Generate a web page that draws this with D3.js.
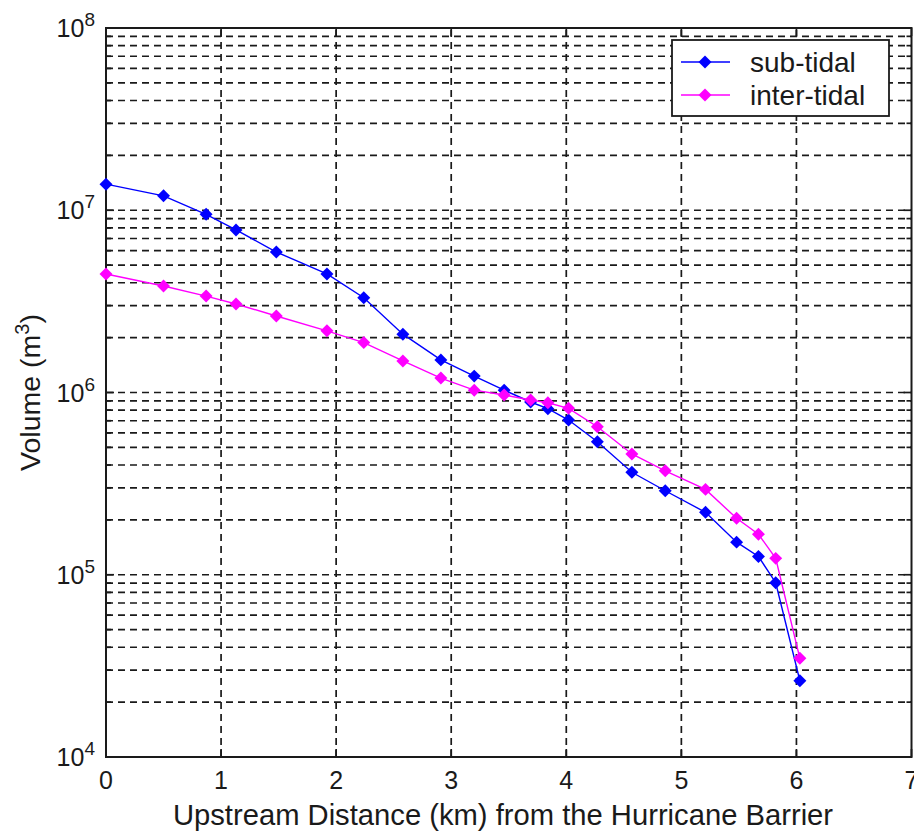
<!DOCTYPE html>
<html>
<head>
<meta charset="utf-8">
<script src="https://cdn.jsdelivr.net/npm/d3@7"></script>
<style>
  html, body { margin: 0; padding: 0; background: #fff; }
  svg { display: block; }
  text { font-family: "Liberation Sans", Arial, sans-serif; fill: #1a1a1a; }
</style>
</head>
<body>
<svg id="chart" width="914" height="836"></svg>
<script>
// Upstream distance (km) of each cross-section
const distance = [0, 0.50, 0.87, 1.13, 1.48, 1.92, 2.24, 2.58, 2.91, 3.20, 3.46,
                  3.69, 3.84, 4.02, 4.27, 4.57, 4.86, 5.21, 5.48, 5.67, 5.82, 6.03];
// Cumulative volumes (m^3)
const subTidal = [1.39e7, 1.20e7, 9.5e6, 7.8e6, 5.9e6, 4.47e6, 3.31e6, 2.09e6, 1.51e6, 1.23e6, 1.03e6,
                  8.87e5, 8.15e5, 7.06e5, 5.37e5, 3.65e5, 2.89e5, 2.20e5, 1.51e5, 1.26e5, 9.04e4, 2.62e4];
const interTidal = [4.47e6, 3.84e6, 3.38e6, 3.06e6, 2.63e6, 2.18e6, 1.88e6, 1.49e6, 1.20e6, 1.03e6, 9.69e5,
                    9.09e5, 8.79e5, 8.19e5, 6.49e5, 4.60e5, 3.72e5, 2.94e5, 2.04e5, 1.67e5, 1.23e5, 3.48e4];
const seriesNames = ["sub-tidal", "inter-tidal"];
const seriesColors = ["#0000ff", "#ff00ff"];
const xTicks = [0, 1, 2, 3, 4, 5, 6, 7];
const yDecades = [4, 5, 6, 7, 8];
const xLabel = "Upstream Distance (km) from the Hurricane Barrier";

const L = 106, R = 911.5, T = 28, B = 757;
const svg = d3.select("#chart");

const x = d3.scaleLinear().domain([0, 7]).range([L, R]);
const y = d3.scaleLog().domain([1e4, 1e8]).range([B, T]);

// minor + major log positions
const yMinor = [];
yDecades.slice(0, -1).forEach(k => {
  for (let m = 2; m <= 9; m++) yMinor.push(m * Math.pow(10, k));
});
const yMajor = yDecades.map(k => Math.pow(10, k));

// grid
const grid = svg.append("g").attr("stroke", "#1a1a1a").attr("stroke-width", 1.7)
  .attr("stroke-dasharray", "7,5").attr("fill", "none");
grid.selectAll("line.hx").data(yMinor.concat(yMajor.slice(1, -1))).join("line")
  .attr("x1", L).attr("x2", R).attr("y1", d => y(d)).attr("y2", d => y(d));
grid.selectAll("line.vx").data(xTicks.slice(1, -1)).join("line")
  .attr("y1", B).attr("y2", T).attr("x1", d => x(d)).attr("x2", d => x(d));

// inward ticks on all four sides
const ticks = svg.append("g").attr("stroke", "#1a1a1a").attr("stroke-width", 1.7);
xTicks.forEach(d => {
  ticks.append("line").attr("x1", x(d)).attr("x2", x(d)).attr("y1", B).attr("y2", B - 8);
  ticks.append("line").attr("x1", x(d)).attr("x2", x(d)).attr("y1", T).attr("y2", T + 8);
});
yMajor.forEach(d => {
  ticks.append("line").attr("x1", L).attr("x2", L + 8).attr("y1", y(d)).attr("y2", y(d));
  ticks.append("line").attr("x1", R).attr("x2", R - 8).attr("y1", y(d)).attr("y2", y(d));
});
yMinor.forEach(d => {
  ticks.append("line").attr("x1", L).attr("x2", L + 5).attr("y1", y(d)).attr("y2", y(d));
  ticks.append("line").attr("x1", R).attr("x2", R - 5).attr("y1", y(d)).attr("y2", y(d));
});

// axes box
svg.append("rect").attr("x", L).attr("y", T).attr("width", R - L).attr("height", B - T)
  .attr("fill", "none").attr("stroke", "#1a1a1a").attr("stroke-width", 2);

// x tick labels
svg.append("g").selectAll("text").data(xTicks).join("text")
  .attr("x", d => x(d)).attr("y", B + 32).attr("text-anchor", "middle")
  .attr("font-size", 25).text(d => d);

// y tick labels as 10^k
const yl = svg.append("g").selectAll("text").data(yDecades).join("text")
  .attr("x", 95).attr("y", d => y(Math.pow(10, d)) + 9).attr("text-anchor", "end")
  .attr("font-size", 25);
yl.append("tspan").text("10");
yl.append("tspan").attr("font-size", 19).attr("dy", -11).text(d => d);

// axis titles
svg.append("text").attr("x", 503).attr("y", 825).attr("text-anchor", "middle")
  .attr("font-size", 29.2).text(xLabel);
const ylab = svg.append("text").attr("transform", `translate(40,${(T + B) / 2}) rotate(-90)`)
  .attr("text-anchor", "middle").attr("font-size", 28.5);
ylab.append("tspan").text("Volume (m");
ylab.append("tspan").attr("font-size", 20).attr("dy", -11).text("3");
ylab.append("tspan").attr("dy", 11).text(")");

// square-proportioned diamond marker
const squareDiamond = {
  draw(ctx, size) {
    const r = Math.sqrt(size / 2);
    ctx.moveTo(0, -r); ctx.lineTo(r, 0); ctx.lineTo(0, r); ctx.lineTo(-r, 0); ctx.closePath();
  }
};
const diamond = d3.symbol().type(squareDiamond).size(84);

// series
const series = [subTidal, interTidal];
const line = d3.line().x(d => x(d[0])).y(d => y(d[1]));
series.forEach((vals, i) => {
  const pts = distance.map((d, j) => [d, vals[j]]);
  const g = svg.append("g");
  g.append("path").datum(pts).attr("d", line).attr("fill", "none")
    .attr("stroke", seriesColors[i]).attr("stroke-width", 1.4);
  g.selectAll("path.m").data(pts).join("path").attr("class", "m")
    .attr("transform", d => `translate(${x(d[0])},${y(d[1])})`)
    .attr("d", diamond).attr("fill", seriesColors[i]);
});

// legend
const lg = svg.append("g");
lg.append("rect").attr("x", 672).attr("y", 40).attr("width", 217).attr("height", 76)
  .attr("fill", "#fff").attr("stroke", "#1a1a1a").attr("stroke-width", 1.8);
seriesNames.forEach((name, i) => {
  const cy = 62 + i * 33;
  lg.append("line").attr("x1", 681).attr("x2", 730).attr("y1", cy).attr("y2", cy)
    .attr("stroke", seriesColors[i]).attr("stroke-width", 1.4);
  lg.append("path").attr("transform", `translate(705,${cy})`).attr("d", diamond)
    .attr("fill", seriesColors[i]);
  lg.append("text").attr("x", 750).attr("y", cy + 10).attr("font-size", 28).text(name);
});
</script>
</body>
</html>
